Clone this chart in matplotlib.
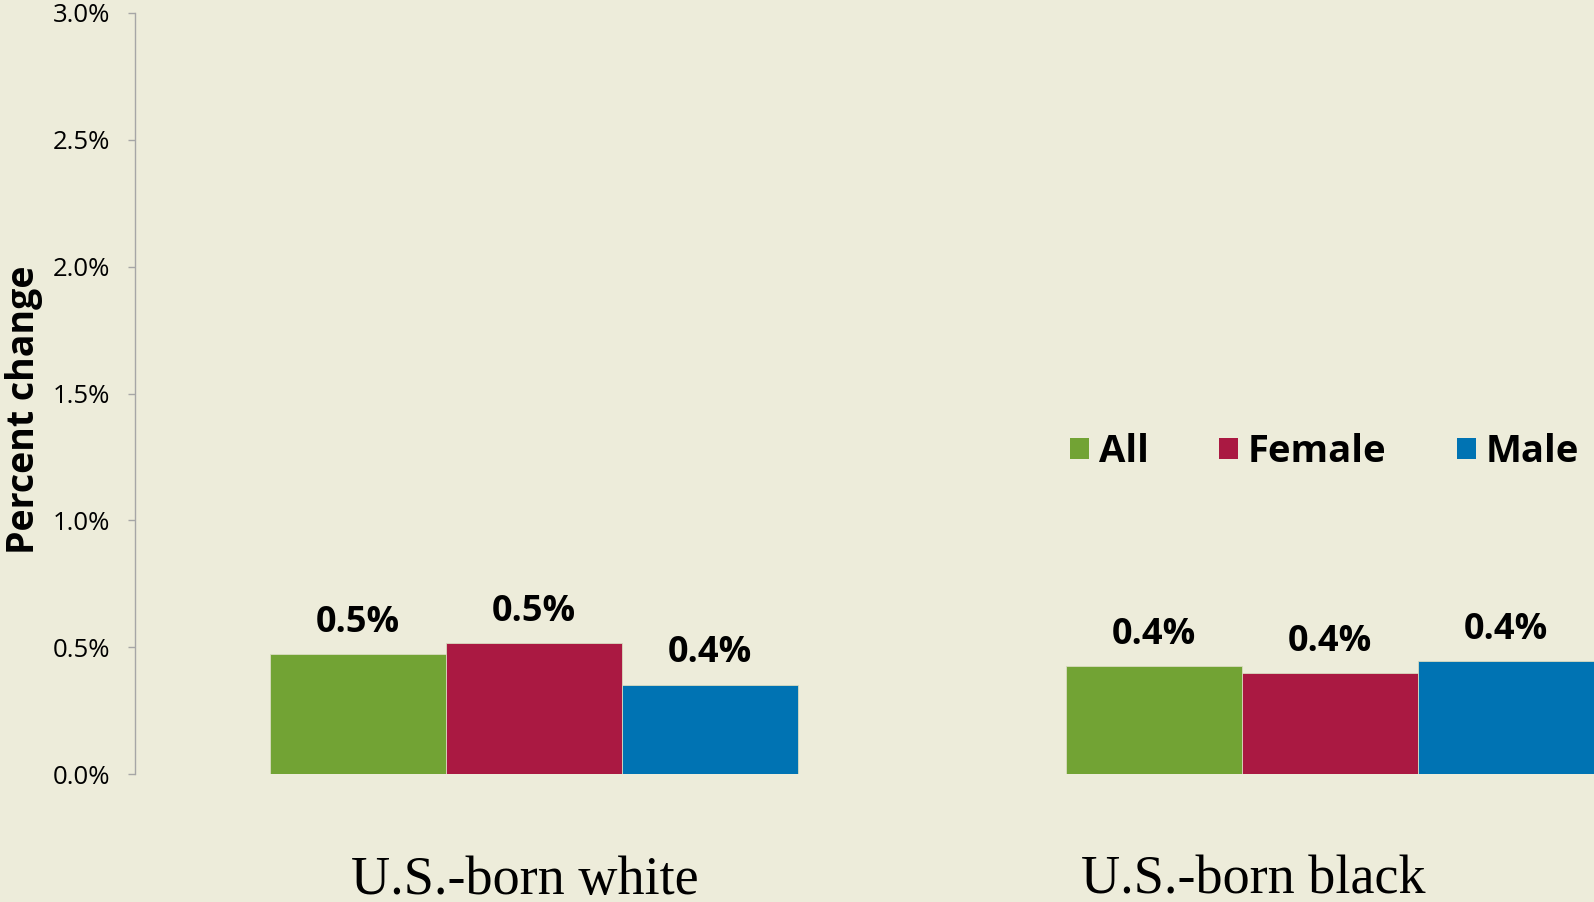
import matplotlib.pyplot as plt
from matplotlib.patches import Patch
import numpy as np

# values, in percent
categories = ["U.S.-born white", "U.S.-born black"]
series = ["All", "Female", "Male"]
all_vals = [0.473, 0.424]
female_vals = [0.517, 0.397]
male_vals = [0.352, 0.445]
colors = ["#72A334", "#AA1942", "#0073B3"]
yticks = [0.0, 0.5, 1.0, 1.5, 2.0, 2.5, 3.0]

bg = "#EDECDA"
sans = ["Open Sans", "DejaVu Sans"]
plt.rcParams['font.family'] = sans

fig = plt.figure(figsize=(15.94, 9.02), dpi=100, facecolor=bg)
ax = fig.add_axes([135 / 1594, 128 / 902, 1 - 135 / 1594, 761 / 902])
ax.set_facecolor(bg)

x = np.arange(len(categories))
w = 0.221
for i, (name, vals) in enumerate(zip(series, [all_vals, female_vals, male_vals])):
    pos = x + (i - 1) * w
    bars = ax.bar(pos, vals, width=w, color=colors[i], label=name,
                  edgecolor="#d9dcc0", linewidth=0.6)
    for b, v in zip(bars, vals):
        ax.annotate(f"{v:.1f}%", (b.get_x() + b.get_width() / 2, v),
                    xytext=(0, 16), textcoords="offset points",
                    ha="center", va="baseline", fontsize=26, fontweight="bold")

ax.set_xlim(-0.501, 1.332)
ax.set_ylim(0, 3.0)
ax.set_yticks(yticks)
ax.set_yticklabels([f"{t:.1f}%" for t in yticks], fontsize=18.5)
ax.tick_params(axis="y", length=5, width=1, color="#A6A6A6", pad=13)
ax.set_xticks([])
for s in ["top", "right", "bottom"]:
    ax.spines[s].set_visible(False)
ax.spines["left"].set_color("#A6A6A6")
ax.spines["left"].set_linewidth(1)

fig.text(24 / 1594, (902 - 410) / 902, "Percent change", rotation=90,
         ha="center", va="center", fontsize=27, fontweight="bold")

# category labels sit below the axis, placed separately as in the original
label_x = [525 / 1594, 1253 / 1594]
for lx, cat in zip(label_x, categories):
    fig.text(lx, 8 / 902, cat, ha="center", va="baseline",
             fontsize=39, family=["Liberation Serif", "DejaVu Serif"])

handles = [Patch(facecolor=c, label=s) for c, s in zip(colors, series)]
fig.legend(handles=handles, loc="center left", ncol=3, frameon=False,
           bbox_to_anchor=(1070 / 1594, (902 - 452) / 902),
           prop={"family": sans, "weight": "bold", "size": 27.5},
           handlelength=0.5, handleheight=0.5, handletextpad=0.25,
           columnspacing=1.85, borderpad=0, borderaxespad=0)

fig.savefig("out.png", dpi=100, facecolor=bg)
